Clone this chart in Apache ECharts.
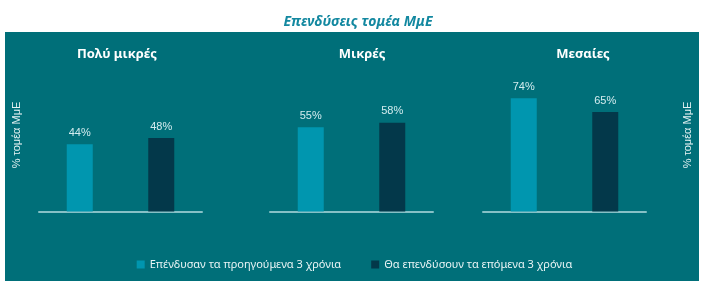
<!DOCTYPE html>
<html><head><meta charset="utf-8">
<script src="https://cdn.jsdelivr.net/npm/echarts@6/dist/echarts.min.js"></script>
<style>html,body{margin:0;padding:0;background:#fff}#c{width:709px;height:281px}</style>
</head><body><div id="c"></div>
<script>
const chartTitle = 'Επενδύσεις τομέα ΜμΕ';
const panelTitles = ['Πολύ μικρές', 'Μικρές', 'Μεσαίες'];
const seriesNames = ['Επένδυσαν τα προηγούμενα 3 χρόνια', 'Θα επενδύσουν τα επόμενα 3 χρόνια'];
const prevValues = [44, 55, 74];
const nextValues = [48, 58, 65];
const yAxisName = '% τομέα ΜμΕ';

const colors = ['#0096af', '#03384a'];
const gridLefts = [39, 270, 483];
const gridWidth = 163;
const titleCenters = [112, 357, 578];

const chart = echarts.init(document.getElementById('c'), null, {renderer: 'canvas'});
const grids = [], xAxes = [], yAxes = [], series = [], titles = [];
titles.push({text: chartTitle, left: 353, top: 10, textAlign: 'center',
  textStyle: {color: '#1388a0', fontSize: 14, fontWeight: 'bold', fontStyle: 'italic', fontFamily: 'Noto Sans'}});
panelTitles.forEach((t, i) => {
  titles.push({text: t, left: titleCenters[i], top: 43, textAlign: 'center',
    textStyle: {color: '#ffffff', fontSize: 13, fontWeight: 'bold', fontFamily: 'Noto Sans'}});
  grids.push({left: gridLefts[i], width: gridWidth, top: 58.5, height: 153});
  xAxes.push({gridIndex: i, type: 'category', data: ['a', 'b'],
    axisLine: {lineStyle: {color: '#86c0c6', width: 2}}, axisTick: {show: false}, axisLabel: {show: false}});
  yAxes.push({gridIndex: i, type: 'value', min: 0, max: 100, show: false, splitLine: {show: false}});
  const lbl = {show: true, position: 'top', distance: 6, formatter: '{c}%', color: '#d3ecef',
    fontSize: 11, fontFamily: 'Liberation Sans'};
  series.push({type: 'bar', name: seriesNames[0], xAxisIndex: i, yAxisIndex: i, barWidth: 26, barGap: '-100%',
    data: [prevValues[i], '-'], itemStyle: {color: colors[0]}, label: lbl});
  series.push({type: 'bar', name: seriesNames[1], xAxisIndex: i, yAxisIndex: i, barWidth: 26, barGap: '-100%',
    data: ['-', nextValues[i]], itemStyle: {color: colors[1]}, label: lbl});
});

chart.setOption({
  animation: false,
  backgroundColor: '#ffffff',
  graphic: [
    {type: 'rect', shape: {x: 5, y: 32, width: 694, height: 260}, style: {fill: '#006f79'}, z: -10},
    {type: 'text', x: 17, y: 135, rotation: Math.PI / 2,
      style: {text: yAxisName, fill: '#e6f3f4', fontSize: 11, fontFamily: 'Liberation Sans', textAlign: 'center', textVerticalAlign: 'middle'}},
    {type: 'text', x: 688, y: 135, rotation: Math.PI / 2,
      style: {text: yAxisName, fill: '#e6f3f4', fontSize: 11, fontFamily: 'Liberation Sans', textAlign: 'center', textVerticalAlign: 'middle'}}
  ],
  title: titles,
  legend: {data: seriesNames, top: 254, left: 'center', itemWidth: 8, itemHeight: 8, itemGap: 30, icon: 'rect',
    textStyle: {color: '#e8f4f5', fontSize: 11, fontFamily: 'Noto Sans'}},
  grid: grids, xAxis: xAxes, yAxis: yAxes, series: series
});
</script></body></html>
